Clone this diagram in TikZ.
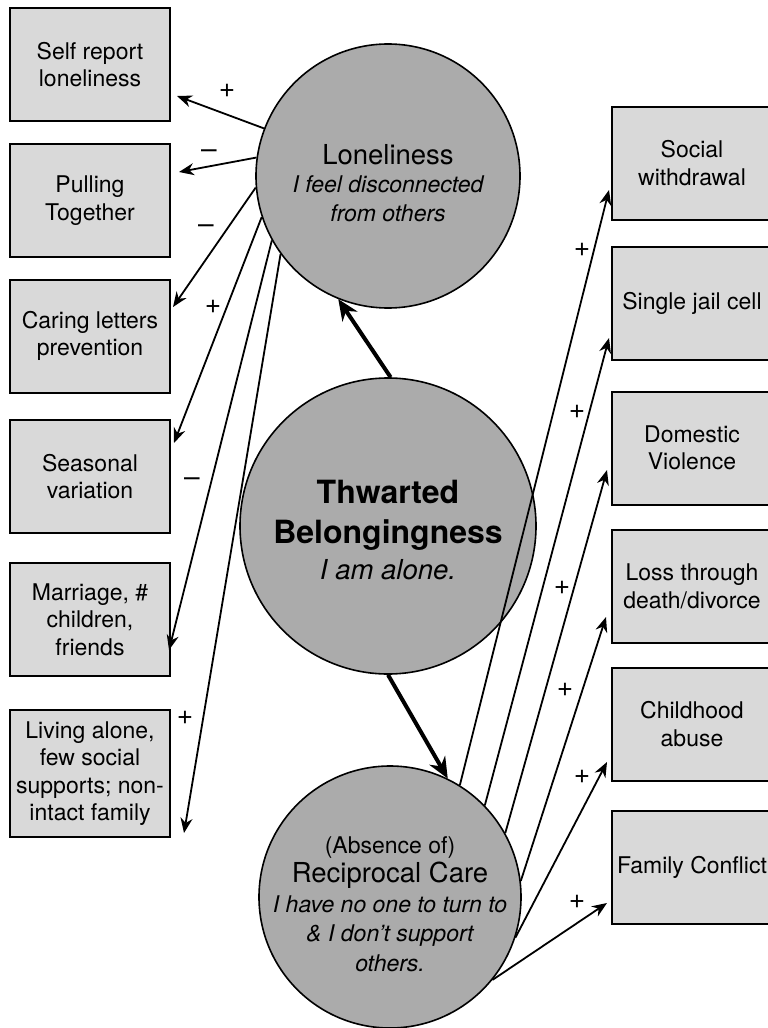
\documentclass[tikz,border=0pt]{standalone}
\usepackage{fontspec}
\setmainfont{TeX Gyre Heros}
\usepackage{tikz}
\usetikzlibrary{arrows.meta, calc}

\newcommand{\boxfont}{\fontsize{23}{27.5}\selectfont}
\newcommand{\titlefont}{\fontsize{27.5}{31}\selectfont}
\newcommand{\notefont}{\fontsize{23}{28.5}\selectfont\itshape}
\newcommand{\mainfont}{\fontsize{32}{40}\selectfont\bfseries}

\begin{document}
\begin{tikzpicture}[
        x=1pt, y=-1pt,
        factor/.style={rectangle, draw=black, line width=2pt, fill=gray!30, minimum width=160pt, minimum height=113pt, align=center, font=\boxfont, inner sep=1pt},
        construct/.style={circle, draw=black, line width=1.6pt, fill=gray!66, inner sep=0pt},
        link/.style={->, line width=1.8pt, >={Stealth[length=15pt, width=12pt]}},
        cause/.style={->, line width=4pt, >={Stealth[length=21pt, width=18pt]}},
        sign/.style={font=\fontsize{28}{30}\selectfont, inner sep=0pt}
    ]
        \useasboundingbox (0,0) rectangle (768,1028);

        % Constructs
        \node[construct, minimum size=264pt] (lone) at (388,176) {};
        \node[construct, minimum size=296pt] (thw) at (388,526) {};
        \node[construct, minimum size=262pt] (rec) at (390,897) {};

        \node[align=center, font=\fontsize{23}{28.5}\selectfont] (lonetext) at (388,183) {\titlefont Loneliness\\\notefont I feel disconnected\\\notefont from others};
        \node[align=center, font=\fontsize{32}{40}\selectfont] (thwtext) at (388,530) {\mainfont Thwarted\\\mainfont Belongingness\\[-4pt]\titlefont\itshape I am alone.};
        \node[align=center, font=\fontsize{23}{29.5}\selectfont] (rectext) at (390,904) {\boxfont (Absence of)\\\titlefont Reciprocal Care\\\notefont I have no one to turn to\\\notefont \& I don't support\\\notefont others.};

        % Indicators of loneliness
        \node[factor] (selfrep) at (90,64.5) {Self report\\loneliness};
        \node[factor] (pulling) at (90,200.5) {Pulling\\Together};
        \node[factor] (letters) at (90,336) {Caring letters\\prevention};
        \node[factor] (season) at (90,476.5) {Seasonal\\variation};
        \node[factor] (marriage) at (90,619.5) {Marriage, \#\\children,\\friends};
        \node[factor, minimum height=127pt] (living) at (90,773.5) {Living alone,\\few social\\supports; non-\\intact family};

        % Indicators of reciprocal care
        \node[factor] (withdraw) at (692,163) {Social\\withdrawal};
        \node[factor] (jail) at (692,303.5) {Single jail cell};
        \node[factor] (violence) at (692,448) {Domestic\\Violence};
        \node[factor] (loss) at (692,586.5) {Loss through\\death/divorce};
        \node[factor] (abuse) at (692,724) {Childhood\\abuse};
        \node[factor] (conflict) at (692,867) {Family Conflict};

        % Thwarted belongingness
        \draw[cause] (thw.89) -- (lone.248);
        \draw[cause] (thw.270) -- (rec.64);

        % Loneliness links
        \draw[link] (lone.159) -- ($(selfrep.east)+(6,31.5)$);
        \draw[link] (lone.172.5) -- ($(pulling.east)+(8,-28.5)$);
        \draw[link] (lone.185.4) -- ($(letters.east)+(2,-29)$);
        \draw[link] (lone.198.7) -- ($(season.east)+(3,-33.5)$);
        \draw[link] (lone.209.8) -- ($(marriage.east)+(-2,30.5)$);
        \draw[link] (lone.216.4) -- ($(living.east)+(13,59.5)$);

        % Reciprocal care links
        \draw[link] (rec.58.4) -- ($(withdraw.west)+(-2,27)$);
        \draw[link] (rec.44) -- ($(jail.west)+(-2,34.5)$);
        \draw[link] (rec.29.8) -- ($(violence.west)+(-4,22)$);
        \draw[link] (rec.7.2) -- ($(loss.west)+(-5,30.5)$);
        \draw[link] (rec.342) -- ($(abuse.west)+(-4,38)$);
        \draw[link] (rec.321) -- ($(conflict.west)+(-4,36)$);

        % Signs
        \node[sign] (s1) at (227,91) {+};
        \node[sign] (s2) at (209,154) {–};
        \node[sign] (s3) at (206,229) {–};
        \node[sign] (s4) at (213,307) {+};
        \node[sign] (s5) at (192,482) {–};
        \node[sign] (s6) at (185,718) {+};
        \node[sign] (s7) at (582,250) {+};
        \node[sign] (s8) at (577,412) {+};
        \node[sign] (s9) at (562,588) {+};
        \node[sign] (s10) at (565,690) {+};
        \node[sign] (s11) at (582,777) {+};
        \node[sign] (s12) at (577,902) {+};
    \end{tikzpicture}
\end{document}
